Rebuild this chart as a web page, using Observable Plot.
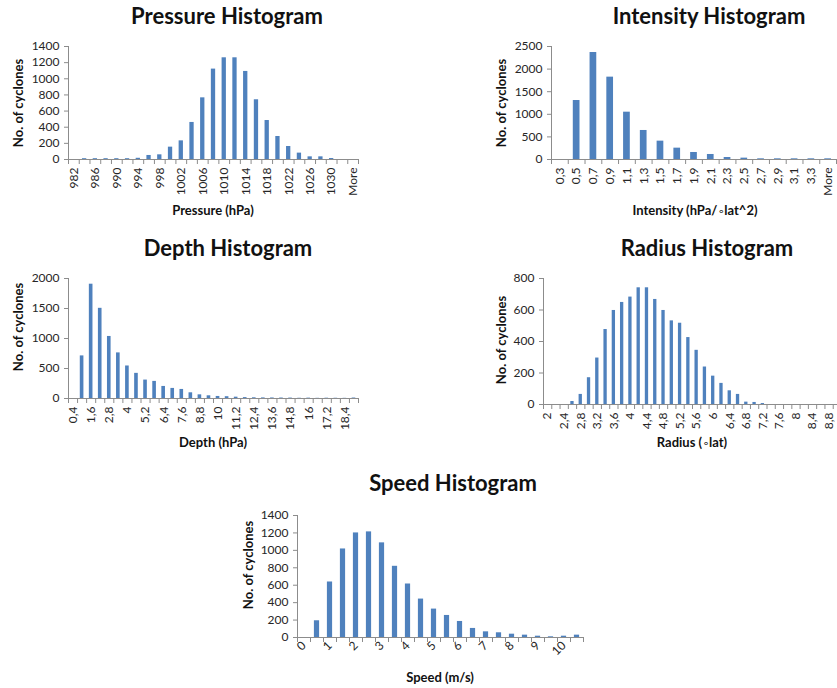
<!DOCTYPE html>
<html>
<head>
<meta charset="utf-8">
<script src="https://cdn.jsdelivr.net/npm/d3@7"></script>
<script src="https://cdn.jsdelivr.net/npm/@observablehq/plot@0.6"></script>
<style>
  body { margin: 0; background: #fff; }
  #root { position: relative; width: 837px; height: 688px; overflow: hidden; background: #fff; font-family: Lato, "Open Sans", sans-serif; }
  .t { position: absolute; transform: translate(-50%, -50%); white-space: nowrap; font-weight: bold; color: #111; line-height: 1; }
  .title { font-size: 22px; }
  .axt { font-size: 13px; }
  .yt { transform: translate(-50%, -50%) rotate(-90deg); }
  .deg { font-family: "DejaVu Sans", sans-serif; font-weight: normal; font-size: 11px; }
</style>
</head>
<body>
<div id="root"></div>
<script>
// ---------- data ----------
const pressureCats = ["982","984","986","988","990","992","994","996","998","1000","1002","1004","1006","1008","1010","1012","1014","1016","1018","1020","1022","1024","1026","1028","1030","1032","More"];
const pressureCounts = [0,10,10,10,10,10,15,50,58,153,231,459,764,1120,1260,1260,1091,740,483,285,161,79,33,33,12,0,0];

const intensityCats = ["0,3","0,5","0,7","0,9","1,1","1,3","1,5","1,7","1,9","2,1","2,3","2,5","2,7","2,9","3,1","3,3","More"];
const intensityCounts = [0,1305,2367,1822,1047,642,406,251,155,111,44,30,15,15,15,15,15];

const depthCats = ["0,4","1","1,6","2,2","2,8","3,4","4","4,6","5,2","5,8","6,4","7","7,6","8,2","8,8","9,4","10","10,6","11,2","11,8","12,4","13","13,6","14,2","14,8","15,4","16","16,6","17,2","17,8","18,4","More"];
const depthCounts = [0,710,1905,1503,1034,760,542,419,307,285,201,168,151,95,61,45,34,30,22,15,12,10,9,8,7,4,6,3,5,4,3,8];

const radiusCats = ["2","2,2","2,4","2,6","2,8","3","3,2","3,4","3,6","3,8","4","4,2","4,4","4,6","4,8","5","5,2","5,4","5,6","5,8","6","6,2","6,4","6,6","6,8","7","7,2","7,4","7,6","7,8","8","8,2","8,4","8,6","8,8","More"];
const radiusCounts = [0,0,0,19,64,170,295,476,597,648,682,741,741,667,597,531,516,425,344,238,180,134,87,64,15,13,6,0,0,0,0,0,0,0,0,0];

const speedCats = ["0","0,5","1","1,5","2","2,5","3","3,5","4","4,5","5","5,5","6","6,5","7","7,5","8","8,5","9","9,5","10","More"];
const speedCounts = [0,192,637,1016,1200,1212,1086,817,614,441,326,253,184,104,65,54,38,27,15,8,15,27];

const pressureYTicks = [0,200,400,600,800,1000,1200,1400];
const intensityYTicks = [0,500,1000,1500,2000,2500];
const depthYTicks = [0,500,1000,1500,2000];
const radiusYTicks = [0,200,400,600,800];
const speedYTicks = [0,200,400,600,800,1000,1200,1400];

// ---------- drawing ----------
const root = document.getElementById("root");
const BAR = "#4F81BD";
const AXIS = "#8c8c8c";
const TXT = "#262626";

function addText(cls, text, x, y) {
  const d = document.createElement("div");
  d.className = "t " + cls;
  const parts = text.split("\u2218");
  parts.forEach((part, k) => {
    if (k > 0) {
      const s = document.createElement("span");
      s.className = "deg";
      s.textContent = "\u2218";
      d.appendChild(s);
    }
    d.appendChild(document.createTextNode(part));
  });
  d.style.left = x + "px";
  d.style.top = y + "px";
  root.appendChild(d);
}

function panel(p) {
  const n = p.cats.length;
  const ML = 70, MR = 20, MT = 10, MB = 60;
  const W = p.x1 - p.x0 + ML + MR, H = p.y1 - p.y0 + MT + MB;
  const data = p.counts.map((v, i) => ({i, v}));
  const labelIdx = d3.range(0, n, p.every).map(i => i + 0.5);
  const yTicks = p.yTicks;
  const svg = Plot.plot({
    width: W, height: H,
    marginLeft: ML, marginRight: MR, marginTop: MT, marginBottom: MB,
    style: {fontFamily: "Lato, 'Open Sans', sans-serif", fontSize: "12px", background: "transparent", overflow: "visible"},
    x: {domain: [0, n]},
    y: {domain: [0, yTicks[yTicks.length - 1]]},
    marks: [
      Plot.rect(data, {x1: d => d.i + 0.3, x2: d => d.i + 0.7, y1: 0, y2: "v", fill: BAR}),
      Plot.ruleX([0], {stroke: AXIS}),
      Plot.ruleY([0], {stroke: AXIS}),
      Plot.axisY(yTicks, {tickSize: 4, tickPadding: 5, stroke: AXIS, fill: TXT, label: null, tickFormat: d => String(d)}),
      Plot.axisX(d3.range(n + 1), {tickSize: 5, stroke: AXIS, tickFormat: () => "", label: null}),
      Plot.axisX(labelIdx, {tickSize: 0, tickPadding: p.pad, tickRotate: p.rotate, fill: TXT, label: null,
        tickFormat: v => p.cats[Math.round(v - 0.5)]})
    ]
  });
  svg.style.position = "absolute";
  svg.style.left = (p.x0 - ML) + "px";
  svg.style.top = (p.y0 - MT) + "px";
  root.appendChild(svg);
  addText("title", p.title, p.tx, p.ty);
  addText("axt", p.xlabel, p.xlx, p.xly);
  addText("axt yt", "No. of cyclones", p.ylx, p.yly);
}

panel({cats: pressureCats, counts: pressureCounts, yTicks: pressureYTicks, every: 2, rotate: -90, pad: 8,
  x0: 68, x1: 358, y0: 46, y1: 159,
  title: "Pressure Histogram", tx: 227, ty: 16,
  xlabel: "Pressure (hPa)", xlx: 213, xly: 210, ylx: 18, yly: 103});

panel({cats: intensityCats, counts: intensityCounts, yTicks: intensityYTicks, every: 1, rotate: -90, pad: 8,
  x0: 551, x1: 836, y0: 46, y1: 159,
  title: "Intensity Histogram", tx: 709, ty: 16,
  xlabel: "Intensity (hPa/\u2218lat^2)", xlx: 695, xly: 210, ylx: 501, yly: 103});

panel({cats: depthCats, counts: depthCounts, yTicks: depthYTicks, every: 2, rotate: -90, pad: 8,
  x0: 68, x1: 358, y0: 278, y1: 398,
  title: "Depth Histogram", tx: 228, ty: 248,
  xlabel: "Depth (hPa)", xlx: 213, xly: 442, ylx: 18, yly: 327});

panel({cats: radiusCats, counts: radiusCounts, yTicks: radiusYTicks, every: 2, rotate: -90, pad: 8,
  x0: 543, x1: 841, y0: 278, y1: 404,
  title: "Radius Histogram", tx: 707, ty: 248,
  xlabel: "Radius (\u2218lat)", xlx: 692, xly: 442, ylx: 501, yly: 340});

panel({cats: speedCats, counts: speedCounts, yTicks: speedYTicks, every: 2, rotate: -45, pad: 6,
  x0: 297, x1: 583, y0: 515, y1: 637,
  title: "Speed Histogram", tx: 453, ty: 483,
  xlabel: "Speed (m/s)", xlx: 440, xly: 677, ylx: 248, yly: 565});
</script>
</body>
</html>
